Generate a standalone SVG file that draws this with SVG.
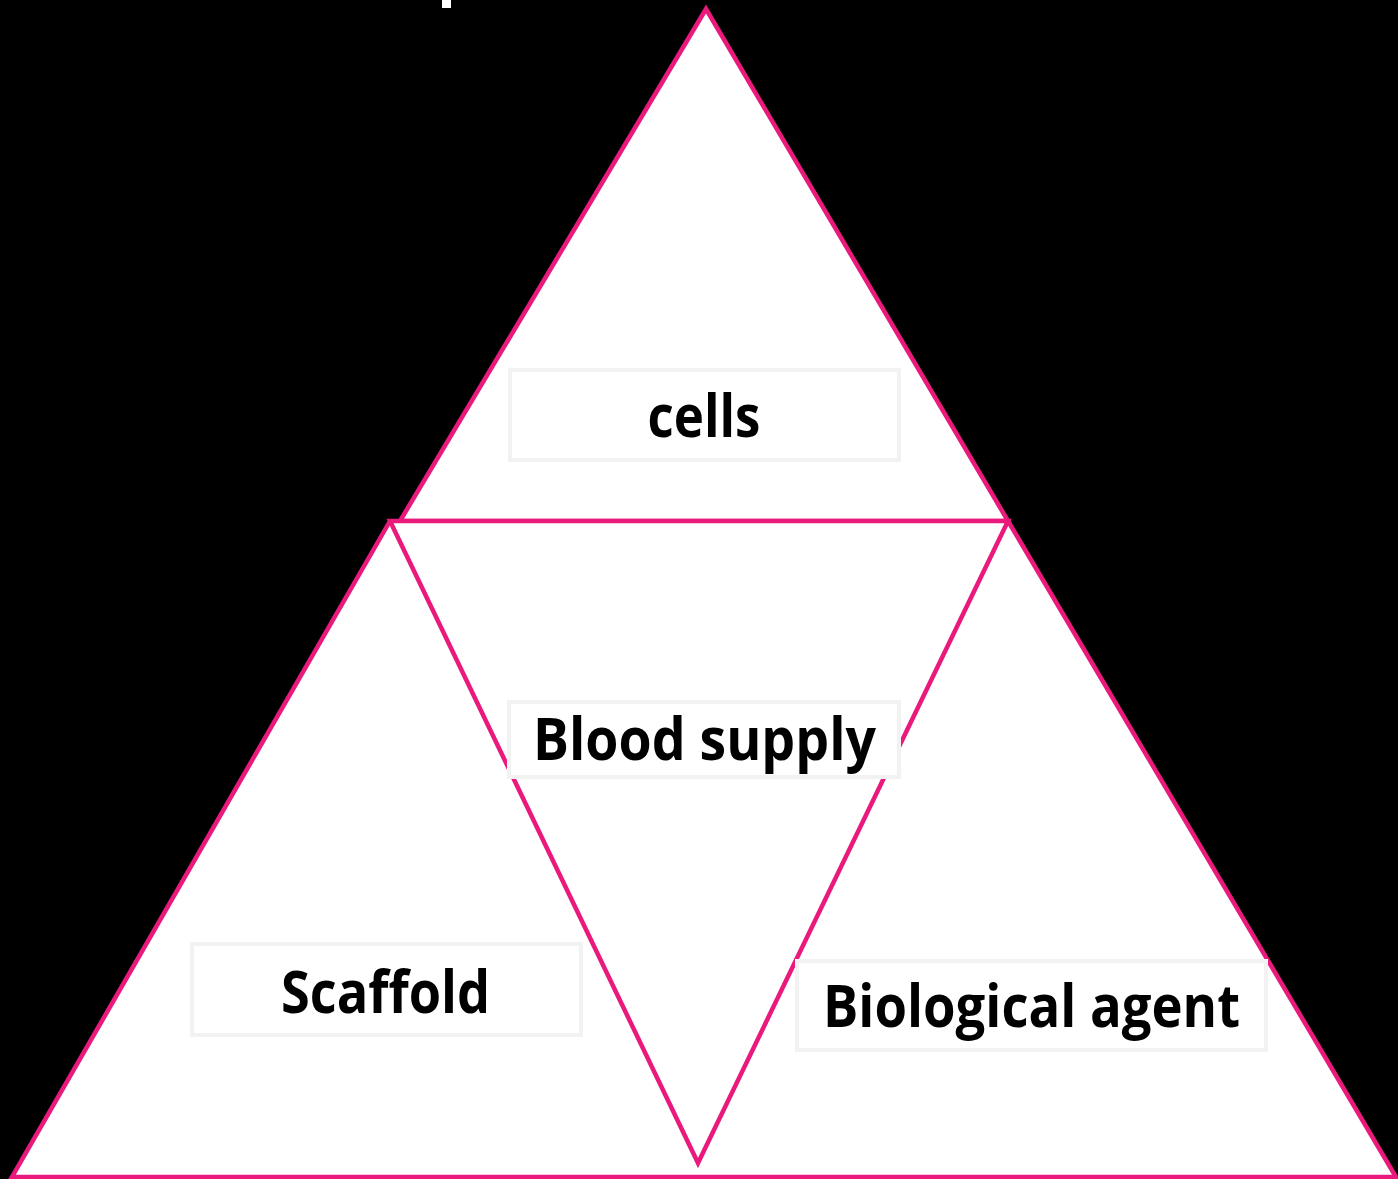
<svg xmlns="http://www.w3.org/2000/svg" width="1398" height="1179" viewBox="0 0 1398 1179">
  <style>
    .edge { fill: none; stroke: #E91A7C; stroke-width: 4.5; stroke-linejoin: miter; }
    .tri { fill: #FFFFFF; stroke: #E91A7C; stroke-width: 4.5; }
    .box { fill: #FFFFFF; stroke: #F2F2F2; stroke-width: 4; }
    .label { font-family: "Open Sans", "Liberation Sans", sans-serif; font-weight: bold; font-size: 59px; fill: #000000; text-anchor: middle; }
  </style>
  <rect x="0" y="0" width="1398" height="1179" fill="#000000"/>
  <rect x="442" y="0" width="9" height="8" fill="#FFFFFF"/>
  <g id="background">
    <polygon points="706,9 1008,521 1396,1177 12,1177 390,521 400,521" fill="#FFFFFF"/>
  </g>
  <g id="node-cells">
    <polygon class="tri" points="706,9 1008,521 400,521"/>
    <rect class="box" x="510" y="370" width="389" height="90"/>
    <text class="label" x="704" y="437" textLength="113" lengthAdjust="spacingAndGlyphs">cells</text>
  </g>
  <g id="node-blood-supply">
    <polygon class="tri" points="390,521 1008,521 698,1163"/>
    <rect class="box" x="509" y="702" width="390" height="75"/>
    <text class="label" x="704.5" y="760" textLength="343" lengthAdjust="spacingAndGlyphs">Blood supply</text>
  </g>
  <g id="node-scaffold">
    <polyline class="edge" points="390,521 12,1177 700,1177"/>
    <rect class="box" x="192" y="944" width="389" height="91"/>
    <text class="label" x="385.5" y="1013" textLength="209" lengthAdjust="spacingAndGlyphs">Scaffold</text>
  </g>
  <g id="node-biological-agent">
    <polyline class="edge" points="1008,521 1396,1177 700,1177"/>
    <rect class="box" x="797" y="961" width="469" height="89"/>
    <text class="label" x="1031.5" y="1027" textLength="417" lengthAdjust="spacingAndGlyphs">Biological agent</text>
  </g>
  <g id="connectors"></g>
</svg>
